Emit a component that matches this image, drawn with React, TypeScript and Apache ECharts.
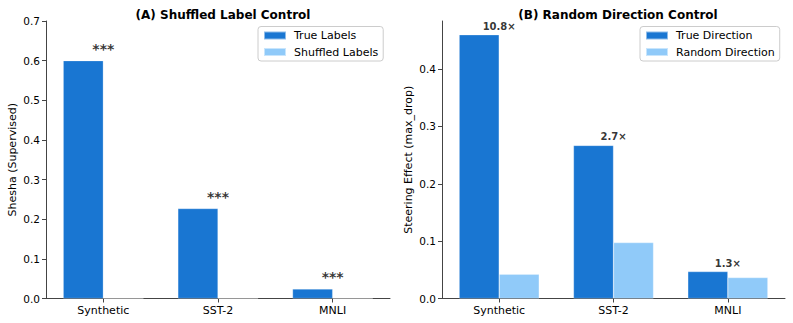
import React, { useEffect, useRef } from "react";
import * as echarts from "echarts";

const categories = ["Synthetic", "SST-2", "MNLI"];
const trueLabels = [0.6, 0.227, 0.024];
const shuffledLabels = [0, 0, 0];
const significance = ["***", "***", "***"];
const trueDirection = [0.46, 0.267, 0.047];
const randomDirection = [0.0425, 0.0975, 0.0365];
const ratioLabels = ["10.8×", "2.7×", "1.3×"];
const leftTicks = [0, 0.1, 0.2, 0.3, 0.4, 0.5, 0.6, 0.7];
const rightTicks = [0, 0.1, 0.2, 0.3, 0.4];

const FONT = "DejaVu Sans";
const DARK = "#1976D2";
const LIGHT = "#90CAF9";
const AXIS = "#444";

export default function App() {
  const ref = useRef<HTMLDivElement>(null);
  useEffect(() => {
    document.body.style.margin = "0";
    const chart = echarts.init(ref.current!, null, { renderer: "svg" });
    const yAxisCommon = (ticks: number[], max: number, name: string, gridIndex: number) => ({
      type: "value",
      gridIndex,
      min: 0,
      max,
      interval: 0.1,
      name,
      nameLocation: "middle",
      nameGap: 28,
      nameTextStyle: { fontFamily: FONT, fontSize: 11, color: "#000" },
      axisLine: { show: true, lineStyle: { color: AXIS, width: 1 } },
      axisTick: { show: true, length: 4, lineStyle: { color: AXIS }, customValues: ticks },
      axisLabel: {
        fontFamily: FONT,
        fontSize: 10.5,
        color: "#000",
        margin: 6,
        customValues: ticks,
        formatter: (v: number) => v.toFixed(1),
      },
      splitLine: { show: false },
    });
    const xAxisCommon = (gridIndex: number) => ({
      type: "category",
      gridIndex,
      data: categories,
      axisLine: { show: true, lineStyle: { color: AXIS, width: 1 } },
      axisTick: { show: true, alignWithLabel: true, length: 4, lineStyle: { color: AXIS } },
      axisLabel: { fontFamily: FONT, fontSize: 11, color: "#000", margin: 6 },
    });
    const legendCommon = (left: number, data: string[]) => ({
      data,
      left,
      top: 26.5,
      orient: "vertical",
      icon: "rect",
      itemWidth: 22,
      itemHeight: 8,
      itemGap: 5.5,
      padding: [3.5, 5, 3.5, 5],
      borderColor: "#ccc",
      borderWidth: 1,
      borderRadius: 3,
      backgroundColor: "rgba(255,255,255,0.8)",
      textStyle: { fontFamily: FONT, fontSize: 11, color: "#000", padding: [0, 0, 0, 3] },
    });
    const barStyle = (color: string) => ({
      color,
      borderColor: "rgba(255,255,255,0.5)",
      borderWidth: 0.5,
    });
    chart.setOption({
      animation: false,
      textStyle: { fontFamily: FONT },
      title: [
        {
          text: "(A) Shuffled Label Control",
          left: 218,
          top: 4,
          textAlign: "center",
          textStyle: { fontFamily: FONT, fontSize: 12, fontWeight: "bold", color: "#000" },
        },
        {
          text: "(B) Random Direction Control",
          left: 613,
          top: 4,
          textAlign: "center",
          textStyle: { fontFamily: FONT, fontSize: 12, fontWeight: "bold", color: "#000" },
        },
      ],
      legend: [
        legendCommon(258, ["True Labels", "Shuffled Labels"]),
        legendCommon(640, ["True Direction", "Random Direction"]),
      ],
      grid: [
        { left: 46, right: 403, top: 21, bottom: 24.5 },
        { left: 442, right: 8, top: 21, bottom: 24.5 },
      ],
      xAxis: [xAxisCommon(0), xAxisCommon(1)],
      yAxis: [
        yAxisCommon(leftTicks, 0.7, "Shesha (Supervised)", 0),
        yAxisCommon(rightTicks, 0.484, "Steering Effect (max_drop)", 1),
      ],
      series: [
        {
          name: "True Labels",
          type: "bar",
          xAxisIndex: 0,
          yAxisIndex: 0,
          data: trueLabels,
          barWidth: "35%",
          barGap: "0%",
          itemStyle: barStyle(DARK),
        },
        {
          name: "Shuffled Labels",
          type: "bar",
          xAxisIndex: 0,
          yAxisIndex: 0,
          data: shuffledLabels,
          barWidth: "35%",
          barGap: "0%",
          itemStyle: barStyle(LIGHT),
        },
        {
          name: "significance",
          type: "scatter",
          xAxisIndex: 0,
          yAxisIndex: 0,
          symbolSize: 1,
          itemStyle: { color: "rgba(0,0,0,0)" },
          data: trueLabels.map((v, i) => ({ value: [categories[i], v], name: significance[i] })),
          label: {
            show: true,
            position: "top",
            distance: 4,
            formatter: "{b}",
            fontFamily: FONT,
            fontSize: 14,
            fontWeight: "bold",
            color: "#000",
          },
          z: 5,
        },
        {
          name: "True Direction",
          type: "bar",
          xAxisIndex: 1,
          yAxisIndex: 1,
          data: trueDirection,
          barWidth: "35%",
          barGap: "0%",
          itemStyle: barStyle(DARK),
        },
        {
          name: "Random Direction",
          type: "bar",
          xAxisIndex: 1,
          yAxisIndex: 1,
          data: randomDirection,
          barWidth: "35%",
          barGap: "0%",
          itemStyle: barStyle(LIGHT),
        },
        {
          name: "ratio",
          type: "scatter",
          xAxisIndex: 1,
          yAxisIndex: 1,
          symbolSize: 1,
          itemStyle: { color: "rgba(0,0,0,0)" },
          data: trueDirection.map((v, i) => ({ value: [categories[i], v], name: ratioLabels[i] })),
          label: {
            show: true,
            position: "top",
            distance: 3,
            formatter: "{b}",
            fontFamily: FONT,
            fontSize: 10,
            fontWeight: "bold",
            color: "#000",
          },
          z: 5,
        },
      ],
    });
    return () => chart.dispose();
  }, []);
  return <div ref={ref} style={{ width: 793, height: 323 }} />;
}
